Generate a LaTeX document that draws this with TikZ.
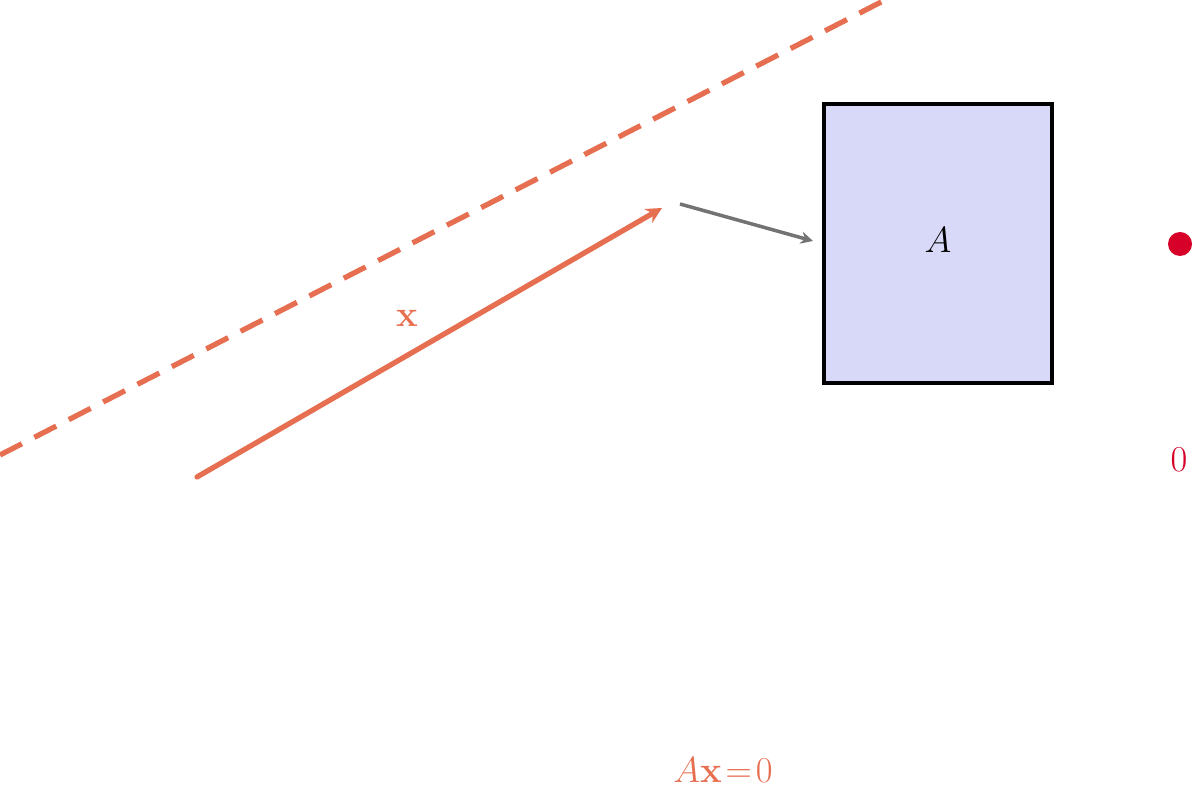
\documentclass[tikz,border=0pt]{standalone}
\usepackage{amsmath}
\usetikzlibrary{arrows.meta}
\definecolor{org}{RGB}{231,111,81}
\definecolor{dred}{RGB}{214,0,40}
\definecolor{boxb}{RGB}{216,216,248}
\begin{document}
\begin{tikzpicture}[x=0.02cm,y=-0.02cm,
  lab/.style={font=\fontsize{22}{26}\selectfont}]
\useasboundingbox (0,0) rectangle (1193,786);
\coordinate (d1) at (0,455); \coordinate (d2) at (885,0);
\draw[org,line width=3pt,dash pattern=on 14pt off 8pt] (d1) -- (d2);
\coordinate (x0) at (197,477); \coordinate (x1) at (662,208);
\draw[org,line width=3pt,line cap=round,-{Stealth[length=9pt,width=9pt]}] (x0) -- (x1);
\node[lab,text=org] (xl) at (407,318) {$\mathbf{x}$};
\node[draw,line width=1.8pt,fill=boxb,minimum width=228*0.02cm,minimum height=279*0.02cm] (A) at (938,243.5) {};
\node[lab] (Al) at (938,240) {$A$};
\coordinate (g0) at (680,204);
\draw[gray!90!black,line width=2pt,-{Stealth[length=7pt,width=7pt]}] (g0) -- (813,241);
\fill[dred] (1180,244) circle (12);
\node[lab,text=dred] (z) at (1179,460) {$0$};
\node[lab,text=org] (eq) at (723,770) {$A\mathbf{x}\!=\!0$};
\end{tikzpicture}
\end{document}
